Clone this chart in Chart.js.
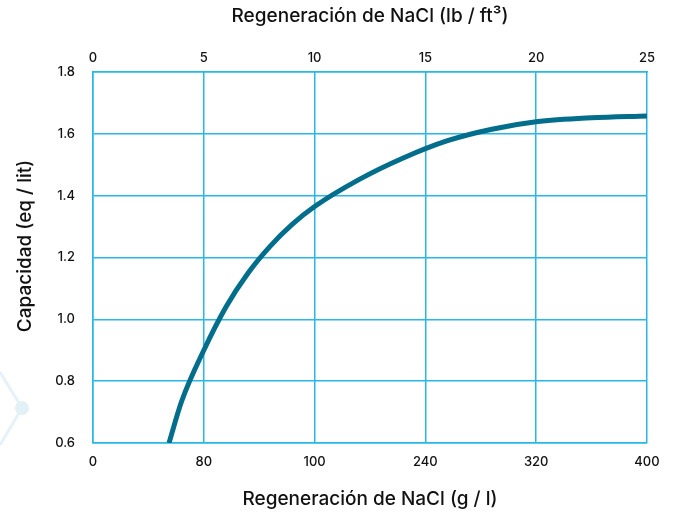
<!DOCTYPE html>
<html>
<head>
<meta charset="utf-8">
<script src="https://cdn.jsdelivr.net/npm/chart.js@4/dist/chart.umd.min.js"></script>
<style>
  html, body { margin: 0; padding: 0; background: #fff; }
  #wrap { width: 678px; height: 514px; }
</style>
</head>
<body>
<div id="wrap"><canvas id="chart" width="678" height="514"></canvas></div>
<script>
// regeneration in lb/ft3 (top axis) and capacity in eq/lit
const regenLb = [3.43, 4, 5, 6, 7, 8, 9, 10, 12, 14, 16, 18, 20, 22.5, 25];
const capacity = [0.6, 0.735, 0.9, 1.04, 1.15, 1.237, 1.308, 1.365, 1.452, 1.522, 1.578, 1.615, 1.639, 1.652, 1.658];
const topTicks = ['0', '5', '10', '15', '20', '25'];
const bottomTicks = ['0', '80', '100', '240', '320', '400'];

const gridBlue = '#27b8e6';
const lineTeal = '#036d8c';
const tickFont = { family: 'Inter', size: 13, weight: '500' };
const titleFont = { family: 'Inter', size: 19, weight: '500' };

const points = regenLb.map((x, i) => ({ x: x, y: capacity[i] }));

// faint decoration on the left side + y axis title
const decoPlugin = {
  id: 'deco',
  beforeDraw(chart) {
    const ctx = chart.ctx;
    ctx.save();
    ctx.strokeStyle = '#e6f2f8';
    ctx.lineWidth = 3;
    ctx.beginPath();
    ctx.moveTo(0, 372);
    ctx.lineTo(22, 408);
    ctx.lineTo(0, 445);
    ctx.stroke();
    ctx.fillStyle = '#e3f0f6';
    ctx.beginPath();
    ctx.arc(22, 408, 7, 0, Math.PI * 2);
    ctx.fill();
    ctx.restore();
  },
  afterDraw(chart) {
    const ctx = chart.ctx;
    ctx.save();
    ctx.translate(25, 246);
    ctx.rotate(-Math.PI / 2);
    ctx.font = '500 19px Inter';
    ctx.fillStyle = '#111';
    ctx.textAlign = 'center';
    ctx.textBaseline = 'middle';
    ctx.fillText('Capacidad (eq / lit)', 0, 0);
    ctx.restore();
  }
};

new Chart(document.getElementById('chart'), {
  type: 'scatter',
  data: {
    datasets: [{
      data: points,
      showLine: true,
      borderColor: lineTeal,
      borderWidth: 5,
      pointRadius: 0,
      cubicInterpolationMode: 'monotone',
      xAxisID: 'x',
      yAxisID: 'y'
    }, {
      data: [],
      xAxisID: 'x2',
      yAxisID: 'y'
    }]
  },
  options: {
    responsive: false,
    animation: false,
    layout: { padding: { left: 0, right: 31, top: 0, bottom: 0 } },
    plugins: { legend: { display: false }, tooltip: { enabled: false } },
    scales: {
      x: {
        type: 'linear',
        position: 'bottom',
        min: 0, max: 25,
        afterFit: s => { s.height = 71; },
        grid: { color: gridBlue, lineWidth: 1.5, drawTicks: false },
        border: { color: gridBlue, width: 1.5 },
        ticks: {
          stepSize: 5, padding: 11, color: '#111', font: tickFont,
          callback: (v) => bottomTicks[v / 5]
        },
        title: {
          display: true, text: 'Regeneración de NaCl (g / l)', color: '#111',
          font: titleFont, padding: { top: 0, bottom: 3 }
        }
      },
      x2: {
        type: 'linear',
        position: 'top',
        min: 0, max: 25,
        afterFit: s => { s.height = 72; },
        grid: { display: false, drawTicks: false },
        border: { color: gridBlue, width: 1.5 },
        ticks: {
          stepSize: 5, padding: 6, color: '#111', font: tickFont,
          callback: (v) => topTicks[v / 5]
        },
        title: {
          display: true, text: 'Regeneración de NaCl (lb / ft³)', color: '#111',
          font: titleFont, padding: { top: 5, bottom: 0 }
        }
      },
      y: {
        min: 0.6, max: 1.8,
        afterFit: s => { s.width = 93; },
        grid: { color: gridBlue, lineWidth: 1.5, drawTicks: false },
        border: { color: gridBlue, width: 1.5 },
        ticks: {
          stepSize: 0.2, padding: 18, color: '#111', font: tickFont,
          callback: (v) => v.toFixed(1)
        }
      }
    }
  },
  plugins: [decoPlugin]
});
</script>
</body>
</html>
